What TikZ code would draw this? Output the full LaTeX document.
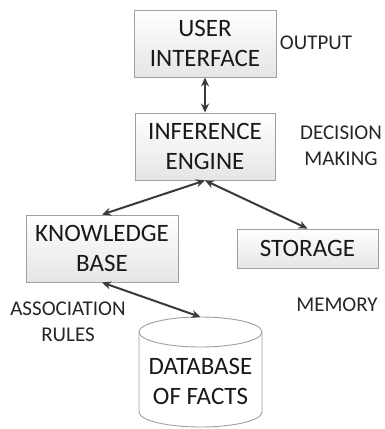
\documentclass[tikz,border=0pt]{standalone}
\usepackage{fontspec}
\setmainfont{Carlito}
\usetikzlibrary{arrows.meta}
\definecolor{boxline}{HTML}{A0A0A0}
\definecolor{arrowcol}{HTML}{3A3A3A}
\tikzset{
  stepbox/.style={draw=boxline, line width=0.9pt, top color=white, bottom color=black!10,
    inner sep=0pt, align=center, font=\fontsize{25}{30}\selectfont, text=black!90},
  lbl/.style={inner sep=0pt, align=center, font=\fontsize{21}{26}\selectfont, text=black!85},
  link/.style={draw=arrowcol, line width=2pt,
    {Stealth[length=9pt,width=8pt]}-{Stealth[length=9pt,width=8pt]}},
}
\begin{document}
\begin{tikzpicture}[x=1pt,y=-1pt]
\useasboundingbox (0,0) rectangle (385,429);
\node[stepbox, minimum width=142pt, minimum height=67pt] (ui) at (205,43.5) {USER\\INTERFACE};
\node[stepbox, minimum width=140pt, minimum height=67pt] (ie) at (205,146.5) {INFERENCE\\ENGINE};
\node[stepbox, minimum width=152pt, minimum height=67pt] (kb) at (102,248.5) {KNOWLEDGE\\BASE};
\node[stepbox, minimum width=141pt, minimum height=39pt] (st) at (307.5,248.5) {STORAGE};
% cylinder
\draw[draw=boxline, line width=0.9pt, fill=white]
  (139,332) -- (139,412) arc[start angle=180, end angle=360, x radius=61.5pt, y radius=15pt]
  -- (262,332) arc[start angle=0, end angle=180, x radius=61.5pt, y radius=15pt] -- cycle;
\draw[draw=boxline, line width=0.9pt]
  (139,332) arc[start angle=180, end angle=360, x radius=61.5pt, y radius=15pt];
\coordinate (dbtop) at (200.5,317);
\node[lbl, font=\fontsize{25}{30}\selectfont, text=black!90] (db) at (200.5,381) {DATABASE\\OF FACTS};
% labels
\node[lbl] (out) at (316,43) {OUTPUT};
\node[lbl] (dm) at (341,146) {DECISION\\MAKING};
\node[lbl] (ar) at (68,322) {ASSOCIATION\\RULES};
\node[lbl] (mem) at (337,305) {MEMORY};
% connectors
\draw[link] (ui.south) -- (ie.north);
\draw[link] (ie.south) -- (kb.north);
\draw[link] (ie.south) -- (st.north);
\draw[link] (kb.south) -- (dbtop);
\end{tikzpicture}
\end{document}
